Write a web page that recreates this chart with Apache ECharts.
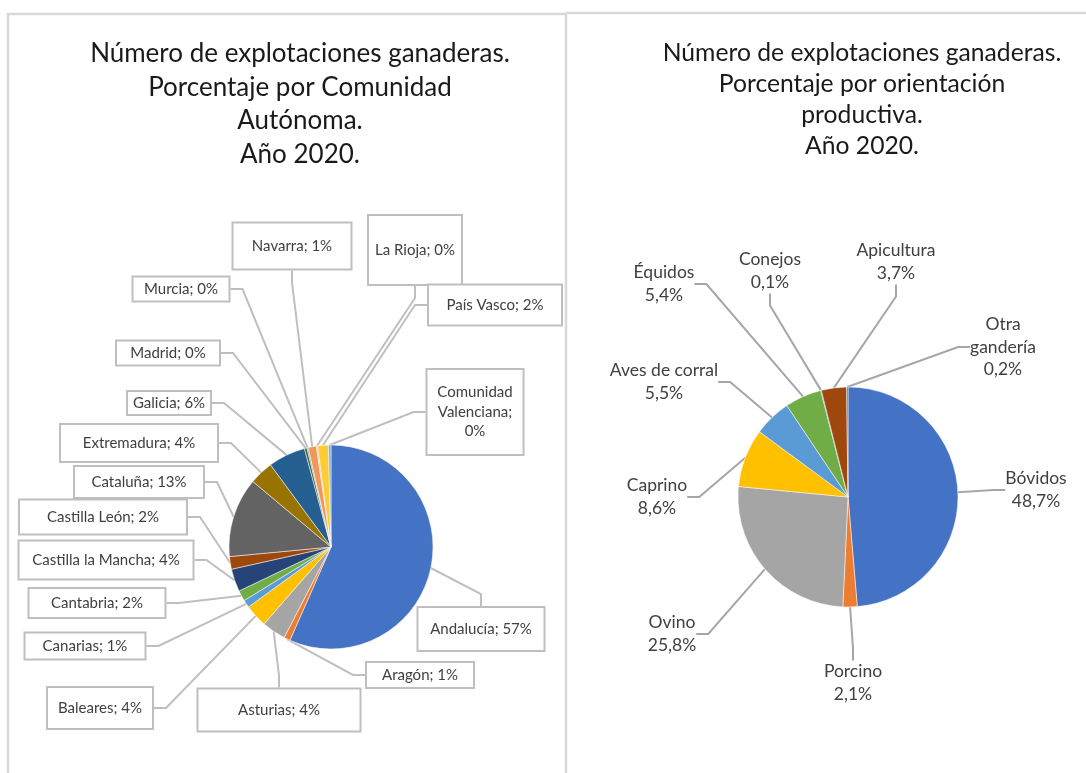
<!DOCTYPE html>
<html>
<head>
<meta charset="utf-8">
<script src="https://cdn.jsdelivr.net/npm/echarts@6/dist/echarts.min.js"></script>
<style>
  html, body { margin: 0; padding: 0; background: #fff; }
  #chart { width: 1086px; height: 773px; }
</style>
</head>
<body>
<div id="chart"></div>
<script>
// % de explotaciones por Comunidad Autónoma (orden de la hoja de Excel)
const comunidades = ['Andalucía', 'Aragón', 'Asturias', 'Baleares', 'Canarias', 'Cantabria',
  'Castilla la Mancha', 'Castilla León', 'Cataluña', 'Extremadura', 'Galicia', 'Madrid',
  'Murcia', 'Navarra', 'La Rioja', 'País Vasco', 'Comunidad Valenciana']
const pctComunidad = [56.6, 1.0, 3.8, 3.6, 1.2, 1.7, 3.6, 2.0, 12.6, 3.8, 5.9, 0.4, 0.2, 1.3, 0.2, 1.7, 0.4]

// % por orientación productiva
const orientaciones = ['Bóvidos', 'Porcino', 'Ovino', 'Caprino', 'Aves de corral', 'Équidos',
  'Conejos', 'Apicultura', 'Otra gandería']
const pctOrientacion = [48.7, 2.1, 25.8, 8.6, 5.5, 5.4, 0.1, 3.7, 0.2]

// colores de Office
const paleta = ['#4472C4', '#ED7D31', '#A5A5A5', '#FFC000', '#5B9BD5', '#70AD47',
  '#264478', '#9E480E', '#636363', '#997300', '#255E91', '#43682B',
  '#698ED0', '#F1975A', '#B7B7B7', '#FFCD33', '#7CAFDD']

// cajas de etiquetas (centro x, centro y, ancho, alto) tal como quedaron en el gráfico
const cajasIzq = [
  [481, 629, 129, 46], [420, 675, 110, 28], [279, 710, 165, 45], [100, 708, 108, 44],
  [85, 646, 123, 29], [97, 603, 139, 32], [106, 560, 177, 41], [103, 517, 170, 37],
  [139, 482, 132, 34], [139, 443, 160, 40], [169, 403, 86, 26], [168, 353, 106, 27],
  [181, 289, 99, 27], [292, 246, 121, 49], [415, 250, 96, 72], [495, 305, 136, 43],
  [475, 412, 99, 88]
]
const posDer = [
  [1036, 490], [853, 683], [672, 634], [657, 497], [664, 382], [664, 284],
  [770, 271], [896, 262], [1003, 347]
]

const fmtPct = v => v.toFixed(1).replace('.', ',') + '%'

const dataIzq = comunidades.map((n, i) => ({
  name: n,
  value: pctComunidad[i],
  label: { width: cajasIzq[i][2] - 4, height: cajasIzq[i][3] - 4 }
}))
const dataDer = orientaciones.map((n, i) => ({ name: n, value: pctOrientacion[i] }))

const chart = echarts.init(document.getElementById('chart'))
chart.setOption({
  animation: false,
  color: paleta,
  graphic: [
    { type: 'rect', silent: true, shape: { x: 8, y: 14, width: 558, height: 800 },
      style: { fill: 'none', stroke: '#D9D9D9', lineWidth: 2.5 } },
    { type: 'line', silent: true, shape: { x1: 566, y1: 13, x2: 1090, y2: 13 },
      style: { stroke: '#D9D9D9', lineWidth: 2.5 } }
  ],
  title: [
    {
      text: 'Número de explotaciones ganaderas.\nPorcentaje por Comunidad\nAutónoma.\nAño 2020.',
      left: 295, top: 32, textAlign: 'center',
      textStyle: { fontFamily: 'Lato', fontSize: 26, fontWeight: 'normal', lineHeight: 33.5, color: '#1a1a1a' }
    },
    {
      text: 'Número de explotaciones ganaderas.\nPorcentaje por orientación\nproductiva.\nAño 2020.',
      left: 857, top: 33, textAlign: 'center',
      textStyle: { fontFamily: 'Lato', fontSize: 24.7, fontWeight: 'normal', lineHeight: 31, color: '#1a1a1a' }
    }
  ],
  series: [
    {
      type: 'pie',
      center: [331, 547],
      radius: 102,
      startAngle: 90,
      clockwise: true,
      avoidLabelOverlap: false,
      itemStyle: { borderColor: '#fff', borderWidth: 0.5 },
      label: {
        show: true,
        position: 'outside',
        overflow: 'none',
        fontFamily: 'Lato',
        fontSize: 15,
        color: '#404040',
        backgroundColor: '#fff',
        borderColor: '#BFBFBF',
        borderWidth: 2,
        lineHeight: 19.5,
        formatter: p => p.name === 'Comunidad Valenciana'
          ? 'Comunidad\nValenciana;\n' + Math.round(p.value) + '%'
          : p.name + '; ' + Math.round(p.value) + '%'
      },
      labelLine: { show: true, length: 10, length2: 12, smooth: false,
        lineStyle: { color: '#BFBFBF', width: 2 } },
      labelLayout: p => ({ x: cajasIzq[p.dataIndex][0], y: cajasIzq[p.dataIndex][1], align: 'center', verticalAlign: 'middle' }),
      data: dataIzq
    },
    {
      type: 'pie',
      center: [848, 497],
      radius: 110,
      startAngle: 90,
      clockwise: true,
      avoidLabelOverlap: false,
      itemStyle: { borderColor: '#fff', borderWidth: 0.5 },
      label: {
        show: true,
        position: 'outside',
        fontFamily: 'Lato',
        fontSize: 17.5,
        lineHeight: 22.5,
        color: '#404040',
        align: 'center',
        formatter: p => (p.name === 'Otra gandería' ? 'Otra\ngandería' : p.name) + '\n' + fmtPct(p.value)
      },
      labelLine: { show: true, length: 10, length2: 12, smooth: false,
        lineStyle: { color: '#A6A6A6', width: 2 } },
      labelLayout: p => ({ x: posDer[p.dataIndex][0], y: posDer[p.dataIndex][1], align: 'center', verticalAlign: 'middle' }),
      data: dataDer
    }
  ]
})
</script>
</body>
</html>
